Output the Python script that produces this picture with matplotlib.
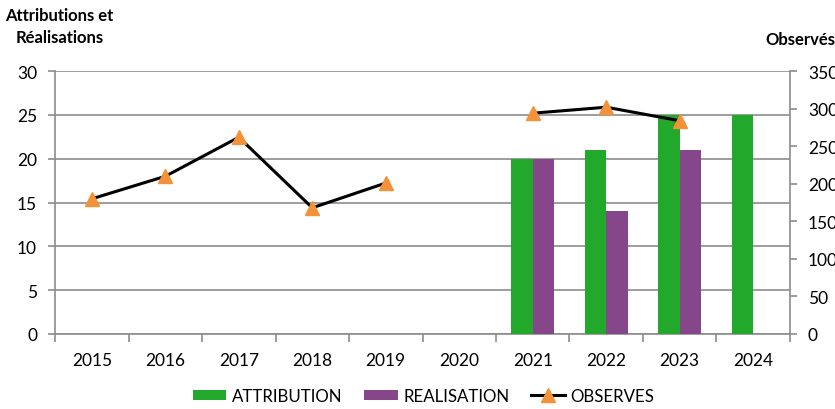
import numpy as np
import matplotlib.pyplot as plt

plt.rcParams['font.family'] = ['Lato', 'DejaVu Sans']

years = ['2015', '2016', '2017', '2018', '2019', '2020', '2021', '2022', '2023', '2024']
attribution = [0, 0, 0, 0, 0, 0, 20, 21, 25, 25]
realisation = [0, 0, 0, 0, 0, 0, 20, 14, 21, 0]
observes = [180, 210, 262, 168, 201, np.nan, 294, 302, 284, np.nan]

green = '#22A82A'
purple = '#86468A'
orange = '#F39239'
grey = '#8C8C8C'

fig = plt.figure(figsize=(8.35, 4.10), dpi=100)
ax = fig.add_axes([0.066, 0.183, 0.880, 0.641])
ax2 = ax.twinx()

x = np.arange(len(years))
w = 0.29
ax.bar(x - w/2, attribution, w, color=green, label='ATTRIBUTION', zorder=3)
ax.bar(x + w/2, realisation, w, color=purple, label='REALISATION', zorder=3)
ax2.plot(x, observes, color='black', lw=2.2, marker='^', ms=10,
         mfc=orange, mec=orange, label='OBSERVES', zorder=4)

ax.set_xlim(-0.5, len(years) - 0.5)
ax.set_ylim(0, 30)
ax.set_yticks(range(0, 31, 5))
ax2.set_ylim(0, 350)
ax2.set_yticks(range(0, 351, 50))

ax.yaxis.grid(True, color=grey, lw=1.2, zorder=0)
ax.set_axisbelow(True)

ax.set_xticks(x)
ax.set_xticklabels(years)
ax.set_xticks(np.arange(-0.5, len(years), 1), minor=True)
ax.tick_params(axis='x', which='major', length=0, pad=13, labelsize=12.5)
ax.tick_params(axis='x', which='minor', length=6, color=grey, width=1.2)
ax.tick_params(axis='y', length=5, color=grey, width=1.2, labelsize=12.5, pad=8)
ax2.tick_params(axis='y', length=5, color=grey, width=1.2, labelsize=12.5, pad=8)

for a in (ax, ax2):
    for s in a.spines.values():
        s.set_visible(False)
ax.spines['left'].set_visible(True)
ax.spines['bottom'].set_visible(True)
ax2.spines['right'].set_visible(True)
for s in (ax.spines['left'], ax.spines['bottom'], ax2.spines['right']):
    s.set_color(grey)
    s.set_linewidth(1.2)

fig.text(0.071, 0.934, 'Attributions et\nRéalisations', ha='center', va='center',
         fontsize=12, fontweight='bold', linespacing=1.45)
fig.text(1.0, 0.902, 'Observés', ha='right', va='center',
         fontsize=12, fontweight='bold')

h1, l1 = ax.get_legend_handles_labels()
h2, l2 = ax2.get_legend_handles_labels()
fig.legend(h1 + h2, l1 + l2, loc='center', bbox_to_anchor=(0.507, 0.032),
           ncol=3, frameon=False, fontsize=12.2, handlelength=2.0,
           handleheight=0.6, columnspacing=1.3, handletextpad=0.3)

fig.savefig('out.png', dpi=100)
